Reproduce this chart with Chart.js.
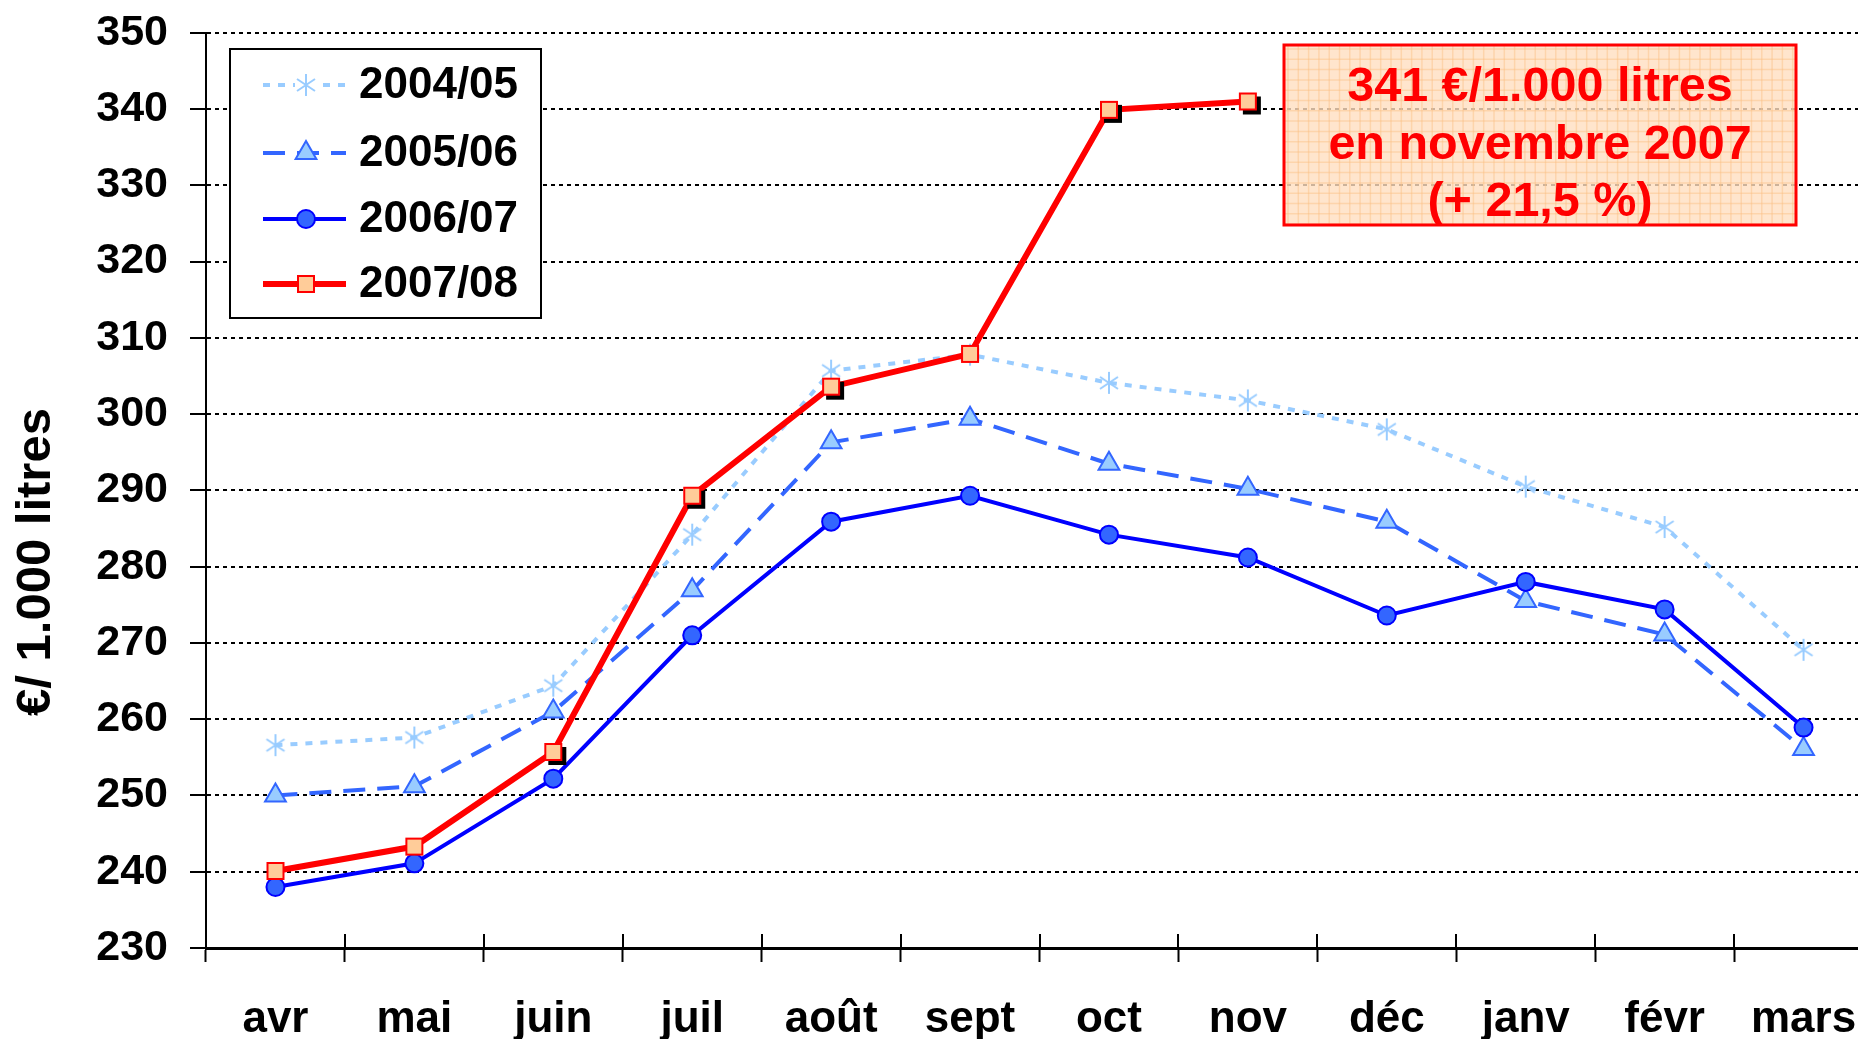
<!DOCTYPE html>
<html><head><meta charset="utf-8">
<script src="https://cdn.jsdelivr.net/npm/chart.js@4/dist/chart.umd.min.js"></script>
<style>
html,body{margin:0;padding:0;background:#fff;overflow:hidden;}
#wrap{width:1858px;height:1039px;overflow:hidden;position:relative;background:#fff;}
canvas{display:block;margin-top:-15px;}
</style></head><body>
<div id="wrap"><canvas id="c" width="1891" height="1065"></canvas></div>
<script>
const categories = ['avr','mai','juin','juil','août','sept','oct','nov','déc','janv','févr','mars'];
const seriesNames = ['2004/05','2005/06','2006/07','2007/08'];
const s2004 = [256.6, 257.6, 264.4, 284.2, 305.7, 307.8, 304.1, 301.8, 298.0, 290.5, 285.2, 269.1];
const s2005 = [250.0, 251.2, 261.0, 276.9, 296.3, 299.4, 293.5, 290.2, 285.9, 275.5, 271.1, 256.1];
const s2006 = [238.0, 241.1, 252.2, 271.0, 285.9, 289.3, 284.2, 281.2, 273.6, 278.0, 274.4, 258.9];
const s2007 = [240.1, 243.3, 255.7, 289.3, 303.6, 307.9, 339.9, 341.0, null, null, null, null];
const yMin = 230, yMax = 350, yStep = 10;
const yTitle = '€/ 1.000 litres';
const noteLines = ['341 €/1.000 litres', 'en novembre 2007', '(+ 21,5 %)'];

const FONT = '"Liberation Sans", Arial, Helvetica, sans-serif';
const OFF = 15; // canvas shifted up by this many px

function makeStar(){
  const c=document.createElement('canvas'); c.width=26; c.height=26;
  const g=c.getContext('2d'); g.strokeStyle='#99CCFF'; g.lineWidth=2;
  g.beginPath();
  g.moveTo(13,2); g.lineTo(13,24);
  g.moveTo(4,7); g.lineTo(22,19);
  g.moveTo(22,7); g.lineTo(4,19);
  g.stroke(); return c;
}
function makeSquare(shadow){
  const c=document.createElement('canvas'); c.width=44; c.height=44;
  const g=c.getContext('2d'); const s=18, o=13;
  if(shadow){ g.fillStyle='#000'; g.fillRect(o+4,o+4,s,s); }
  g.fillStyle='#FFCC99'; g.fillRect(o,o,s,s);
  g.strokeStyle='#FF0000'; g.lineWidth=2; g.strokeRect(o+1,o+1,s-2,s-2);
  return c;
}
const starImg = makeStar();
const sqShadow = makeSquare(true);
const sqPlain = makeSquare(false);
const noShadowIdx = [0,1,5];

const extras = {
  id:'extras',
  afterDraw(chart){
    const ctx = chart.ctx;
    const xs = chart.scales.x;
    const ys = chart.scales.y;
    ctx.save();
    ctx.strokeStyle='#000'; ctx.lineWidth=2;
    for(let i=0;i<=categories.length;i++){
      const x = Math.round(xs.getPixelForValue(i-0.5));
      ctx.beginPath(); ctx.moveTo(x, ys.bottom); ctx.lineTo(x, ys.bottom-14); ctx.stroke();
    }
    ctx.restore();

    ctx.save();
    ctx.translate(0, OFF);
    ctx.save();
    ctx.translate(36, 562);
    ctx.rotate(-Math.PI/2);
    ctx.font = 'bold 49px '+FONT;
    ctx.fillStyle='#000'; ctx.textAlign='center'; ctx.textBaseline='middle';
    ctx.fillText(yTitle, 0, 0);
    ctx.restore();

    const lx=230, ly=49, lw=311, lh=269;
    ctx.fillStyle='#fff'; ctx.fillRect(lx,ly,lw,lh);
    ctx.strokeStyle='#000'; ctx.lineWidth=2; ctx.strokeRect(lx,ly,lw,lh);
    const rows=[85,153,219,284];
    chart.data.datasets.forEach((ds,i)=>{
      const y=rows[i];
      ctx.save();
      ctx.strokeStyle=ds.borderColor; ctx.lineWidth=ds.borderWidth;
      ctx.setLineDash(ds.borderDash||[]);
      ctx.beginPath(); ctx.moveTo(263,y); ctx.lineTo(346,y); ctx.stroke();
      ctx.restore();
      const mx=306;
      if(i===0){ ctx.fillStyle='#fff'; ctx.fillRect(mx-11,y-11,22,22); ctx.drawImage(starImg, mx-13, y-13); }
      else if(i===3){ ctx.drawImage(sqPlain, mx-22, y-22); }
      else {
        ctx.save();
        ctx.fillStyle=ds.pointBackgroundColor; ctx.strokeStyle=ds.pointBorderColor; ctx.lineWidth=ds.pointBorderWidth;
        ctx.beginPath();
        if(ds.pointStyle==='circle'){ ctx.arc(mx,y,ds.pointRadius,0,Math.PI*2); }
        else { const r=ds.pointRadius; ctx.moveTo(mx, y-r); ctx.lineTo(mx+r*0.866, y+r*0.5); ctx.lineTo(mx-r*0.866, y+r*0.5); ctx.closePath(); }
        ctx.fill(); ctx.stroke();
        ctx.restore();
      }
      ctx.fillStyle='#000'; ctx.font='bold 44px '+FONT; ctx.textAlign='left'; ctx.textBaseline='middle';
      ctx.fillText(ds.label, 359, y+1);
    });

    const bx=1284, by=45, bw=512, bh=180;
    ctx.save();
    ctx.fillStyle='rgba(255,222,192,0.8)'; ctx.fillRect(bx,by,bw,bh);
    ctx.beginPath(); ctx.rect(bx,by,bw,bh); ctx.clip();
    ctx.strokeStyle='rgba(250,190,130,0.45)'; ctx.lineWidth=1.5;
    for(let x=bx+4;x<bx+bw;x+=10.3){ ctx.beginPath(); ctx.moveTo(x,by); ctx.lineTo(x,by+bh); ctx.stroke(); }
    for(let y=by+4;y<by+bh;y+=10.3){ ctx.beginPath(); ctx.moveTo(bx,y); ctx.lineTo(bx+bw,y); ctx.stroke(); }
    ctx.restore();
    ctx.strokeStyle='#FF0000'; ctx.lineWidth=3; ctx.strokeRect(bx,by,bw,bh);
    ctx.fillStyle='#FF0000'; ctx.font='bold 48.5px '+FONT; ctx.textAlign='center'; ctx.textBaseline='middle';
    const ny=[88,146,203];
    noteLines.forEach((t,i)=>ctx.fillText(t, 1540, ny[i]));
    ctx.restore();
  }
};

new Chart(document.getElementById('c'), {
  type:'line',
  data:{
    labels: categories,
    datasets:[
      {label:seriesNames[0], data:s2004, borderColor:'#99CCFF', borderWidth:4, borderDash:[7,8],
       pointStyle:starImg, pointRadius:11, order:4, fill:false, tension:0},
      {label:seriesNames[1], data:s2005, borderColor:'#3366FF', borderWidth:4, borderDash:[22,12],
       pointStyle:'triangle', pointRadius:12, pointBackgroundColor:'#99CCFF', pointBorderColor:'#3366FF', pointBorderWidth:2,
       order:3, fill:false, tension:0},
      {label:seriesNames[2], data:s2006, borderColor:'#0000FF', borderWidth:4,
       pointStyle:'circle', pointRadius:9, pointBackgroundColor:'#3366FF', pointBorderColor:'#0000FF', pointBorderWidth:2,
       order:2, fill:false, tension:0},
      {label:seriesNames[3], data:s2007, borderColor:'#FF0000', borderWidth:6,
       pointStyle:(ctx)=> noShadowIdx.includes(ctx.dataIndex) ? sqPlain : sqShadow, pointRadius:12,
       order:1, fill:false, tension:0, spanGaps:false}
    ]
  },
  options:{
    responsive:false, animation:false, devicePixelRatio:1,
    layout:{padding:{top:17, right:6, bottom:0, left:0}},
    plugins:{legend:{display:false}, tooltip:{enabled:false}},
    scales:{
      x:{
        type:'category', offset:true,
        grid:{display:true, offset:true, drawOnChartArea:false, drawTicks:true, tickLength:14, tickWidth:2, tickColor:'#000'},
        border:{display:true, color:'#000', width:3},
        ticks:{color:'#000', font:{family:FONT, size:44, weight:'bold'}, padding:31, maxRotation:0, autoSkip:false},
        afterFit(s){ s.height = 102; }
      },
      y:{
        min:yMin, max:yMax,
        ticks:{stepSize:yStep, color:'#000', font:{family:FONT, size:43, weight:'bold'}, padding:22},
        grid:{display:true, color:'#000', lineWidth:2, drawTicks:true, tickLength:16, tickWidth:2, tickColor:'#000', tickBorderDash:[]},
        border:{display:true, color:'#000', width:2, dash:[4,4]},
        afterFit(s){ s.width = 206; }
      }
    }
  },
  plugins:[extras]
});
</script>
</body></html>
